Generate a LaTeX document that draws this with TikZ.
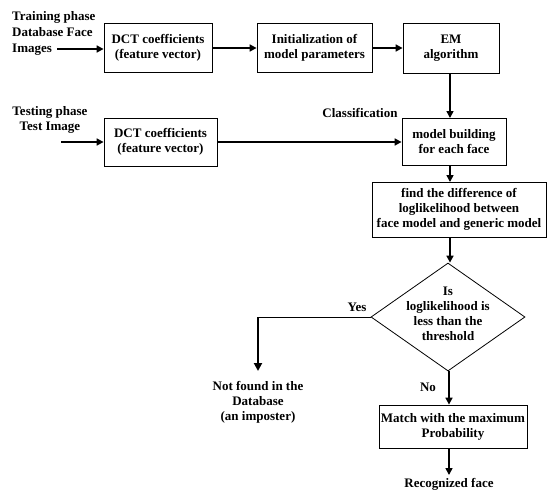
\documentclass[tikz,border=0pt]{standalone}
\usepackage{fontspec}
\setmainfont{Liberation Serif}
\usetikzlibrary{shapes.geometric,arrows.meta}
\begin{document}
\begin{tikzpicture}[x=1pt,y=-1pt,
  every node/.style={font=\fontsize{13}{15}\selectfont\bfseries, inner sep=0pt},
  box/.style={draw, line width=0.8pt, align=center},
  lbl/.style={align=center},
  arr/.style={line width=1.6pt, -{Triangle[length=7pt,width=7pt]}},
  thin line/.style={line width=0.8pt}]
\useasboundingbox[fill=white] (0,0) rectangle (547,491);
% training phase
\node[align=left, anchor=west, font=\fontsize{13}{16}\selectfont\bfseries] (trainlbl) at (12,33) {Training phase\\Database Face\\Images};
\coordinate (trainin) at (57,49);
\node[box, minimum width=108pt, minimum height=49pt] (dct1) at (158,48) {DCT coefficients\\(feature vector)};
\node[box, minimum width=115pt, minimum height=49pt] (init) at (314.5,48) {Initialization of\\model parameters};
\node[box, minimum width=96pt, minimum height=50pt] (em) at (451,48) {EM\\algorithm};
% testing phase
\node[lbl] (testlbl) at (50,120) {Testing phase\\Test Image};
\coordinate (testin) at (61,142);
\node[box, minimum width=113pt, minimum height=48pt] (dct2) at (160.5,142) {DCT coefficients\\(feature vector)};
\node[box, minimum width=104pt, minimum height=47pt] (model) at (454,141.5) {model building\\for each face};
\node[lbl] (classif) at (360,113) {Classification};
\node[box, minimum width=174pt, minimum height=55pt] (diff) at (459,209.5) {find the difference of\\loglikelihood between\\face model and generic model};
\node[draw, diamond, line width=0.8pt, minimum width=154pt, minimum height=108pt] (dia) at (448,317) {};
\node[lbl] (diatext) at (448,314) {Is\\loglikelihood is\\less than the\\threshold};
\node[lbl] (yes) at (357,307) {Yes};
\node[lbl] (no) at (428,387) {No};
\coordinate (yescorner) at (258,317);
\node[lbl] (notfound) at (258,402) {Not found in the\\Database\\(an imposter)};
\node[box, minimum width=148pt, minimum height=43pt] (match) at (453,426.5) {Match with the maximum\\Probability};
\node[lbl] (recog) at (449,484) {Recognized face};
% connectors
\draw[arr] (trainin) -- (dct1.west |- trainin);
\draw[arr] (dct1.east) -- (init.west);
\draw[arr] (init.east) -- (em.west);
\draw[arr] (450,73) -- (450,118);
\draw[arr] (testin) -- (dct2.west |- testin);
\draw[arr] (dct2.east) -- (model.west |- dct2.east);
\draw[arr] (450,165) -- (450,182);
\draw[arr] (450,237) -- (dia.north -| 450,0);
\draw[thin line] (dia.west) -- (yescorner);
\draw[line width=2.6pt, -{Triangle[length=8pt,width=8pt]}] (yescorner) -- (258,371);
\draw[arr] (dia.south -| 449,0) -- (match.north -| 449,0);
\draw[arr] (match.south -| 449,0) -- (449,475);
\end{tikzpicture}
\end{document}
